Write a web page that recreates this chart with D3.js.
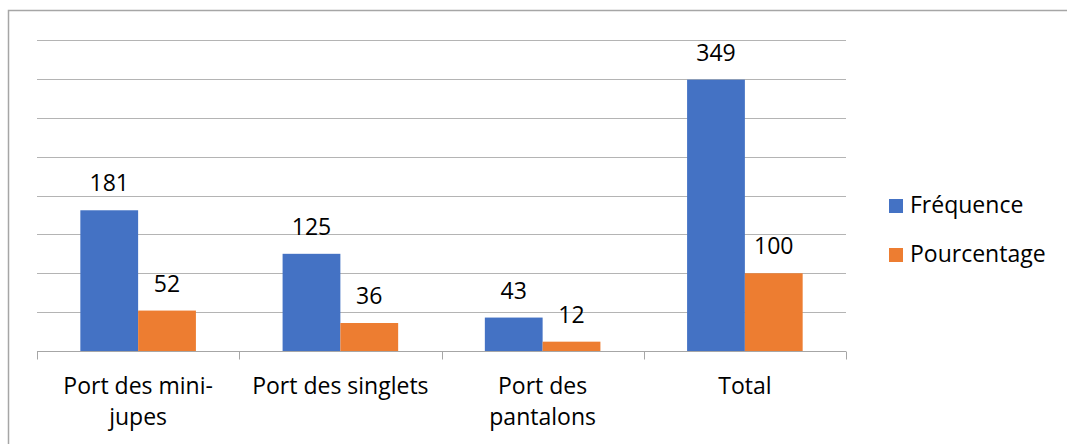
<!DOCTYPE html>
<html><head><meta charset="utf-8">
<script src="https://cdn.jsdelivr.net/npm/d3@7"></script>
<style>html,body{margin:0;padding:0;background:#fff;}svg{display:block;font-family:"Open Sans",sans-serif;}</style>
</head><body>
<svg id="c" width="1067" height="444"></svg>
<script>
const categories = ["Port des mini-jupes", "Port des singlets", "Port des pantalons", "Total"];
const categoryLines = [["Port des mini-", "jupes"], ["Port des singlets"], ["Port des", "pantalons"], ["Total"]];
const seriesNames = ["Fréquence", "Pourcentage"];
const frequence = [181, 125, 43, 349];
const pourcentage = [52, 36, 12, 100];
const colors = ["#4472C4", "#ED7D31"];
const yTicks = [0, 50, 100, 150, 200, 250, 300, 350, 400];

const svg = d3.select("#c");
const FS = 23;
// frame
svg.append("path").attr("d", "M8.5,444 L8.5,10.5 L1067,10.5").attr("fill", "none").attr("stroke", "#a6a6a6").attr("stroke-width", 1.5);

const x = d3.scaleBand().domain(categories).range([37, 846]).paddingInner(0).paddingOuter(0);
const xs = d3.scaleBand().domain(seriesNames).range([0, x.bandwidth()]).paddingInner(0).paddingOuter(0.75);
const y = d3.scaleLinear().domain([0, 400]).range([351, 40]);

// gridlines
svg.append("g").selectAll("line").data(yTicks.slice(1)).join("line")
  .attr("x1", 37).attr("x2", 846).attr("y1", d => Math.round(y(d)) + 0.5).attr("y2", d => Math.round(y(d)) + 0.5)
  .attr("stroke", "#b4b4b4").attr("stroke-width", 1);

const data = categories.map((c, i) => ({c, vals: [frequence[i], pourcentage[i]]}));
const g = svg.append("g").selectAll("g").data(data).join("g").attr("transform", d => `translate(${x(d.c)},0)`);
g.selectAll("rect").data(d => d.vals.map((v, j) => ({v, s: seriesNames[j], j}))).join("rect")
  .attr("x", d => xs(d.s)).attr("width", xs.bandwidth())
  .attr("y", d => y(d.v)).attr("height", d => y(0) - y(d.v))
  .attr("fill", d => colors[d.j]);
g.selectAll("text").data(d => d.vals.map((v, j) => ({v, s: seriesNames[j], j}))).join("text")
  .attr("x", d => xs(d.s) + xs.bandwidth() / 2).attr("y", d => y(d.v) - 19)
  .attr("text-anchor", "middle").attr("font-size", FS).attr("fill", "#000").text(d => d.v);

// x axis
const xAxis = d3.axisBottom(x).tickSize(0).tickFormat("");
const ax = svg.append("g").attr("transform", `translate(0,${Math.round(y(0)) + 0.5})`).call(xAxis);
ax.select(".domain").attr("stroke", "#a6a6a6").attr("d", "M37,0H846");
const bounds = [37].concat(categories.map(c => x(c) + x.bandwidth()));
ax.selectAll(".bt").data(bounds).join("line").attr("class", "bt")
  .attr("x1", d => Math.round(d) + 0.5).attr("x2", d => Math.round(d) + 0.5).attr("y1", 0).attr("y2", 8)
  .attr("stroke", "#a6a6a6");
categories.forEach((c, i) => {
  const t = svg.append("text").attr("text-anchor", "middle").attr("font-size", FS).attr("fill", "#000");
  categoryLines[i].forEach((l, k) => {
    t.append("tspan").attr("x", x(c) + x.bandwidth() / 2).attr("y", 394 + k * 31).text(l);
  });
});

// legend
const lg = svg.append("g").selectAll("g").data(seriesNames).join("g")
  .attr("transform", (d, i) => `translate(889,${199 + i * 49})`);
lg.append("rect").attr("width", 14).attr("height", 14).attr("fill", (d, i) => colors[i]);
lg.append("text").attr("x", 21).attr("y", 14).attr("font-size", FS).attr("fill", "#000").text(d => d);
</script>
</body></html>
